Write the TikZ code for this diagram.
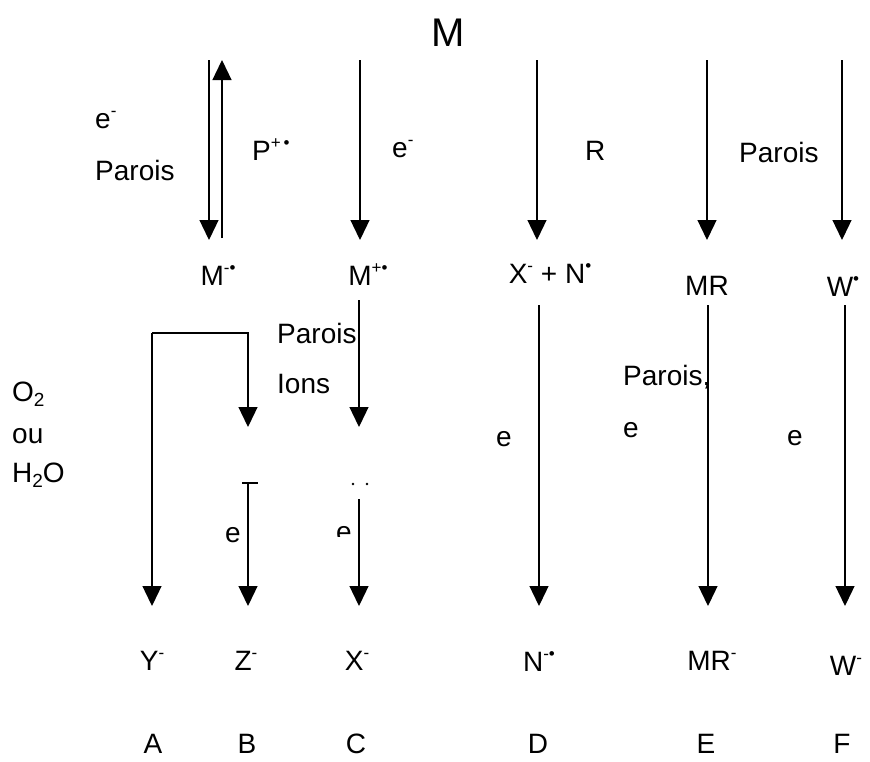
\documentclass[tikz,border=0pt]{standalone}
\usepackage{fontspec}
\setmainfont{Liberation Sans}
\usetikzlibrary{arrows.meta}

% small raised / lowered marks for charges, radicals and indices
\newcommand\sups[1]{\raisebox{0.40em}{\fontsize{17}{17}\selectfont #1}}
\newcommand\subs[1]{\raisebox{-0.18em}{\fontsize{19}{19}\selectfont #1}}

\begin{document}
\begin{tikzpicture}[x=1pt, y=-1pt,
  font=\fontsize{28}{32}\selectfont,
  lbl/.style={anchor=base, inner sep=0pt},
  lblw/.style={anchor=base west, inner sep=0pt},
  arr/.style={line width=1.3pt, -{Triangle[length=20pt,width=19pt]}},
  plain/.style={line width=1.3pt}]
\useasboundingbox (0,0) rectangle (870,761);

% ---- starting molecule
\node[lbl, font=\fontsize{40}{44}\selectfont] (M) at (448,46) {M};

% ---- first step: conditions
\node[lblw] (eA) at (95,128) {e\sups{-}};
\node[lblw] (parA) at (95,180) {Parois};
\node[lblw] (pplus) at (252,160) {P\sups{+\,•}};
\node[lblw] (eC) at (392,157) {e\sups{-}};
\node[lblw] (rD) at (585,160) {R};
\node[lblw] (parF) at (739,162) {Parois};

% ---- intermediates
\node[lbl] (Mminus) at (218,285) {M\sups{-•}};
\node[lbl] (Mplus)  at (368,285) {M\sups{+•}};
\node[lbl] (XN)     at (550,283) {X\sups{-} + N\sups{•}};
\node[lbl] (MR)     at (707,295) {MR};
\node[lbl] (Wrad)   at (843,296) {W\sups{•}};

% ---- second step: conditions
\node[lblw] (parC) at (277,343) {Parois};
\node[lblw] (ions) at (277,393) {Ions};
\node[lblw] (o2)   at (12,401) {O\subs{2}};
\node[lblw] (ou)   at (12,443) {ou};
\node[lblw] (h2o)  at (12,482) {H\subs{2}O};
\node[lbl]  (eB)   at (233,542) {e};
\node[lbl]  (eD)   at (504,446) {e};
\node[lblw] (parE) at (623,385) {Parois,};
\node[lblw] (eE)   at (623,437) {e};
\node[lbl]  (eF)   at (795,445) {e};
% truncated label beside column C
\begin{scope}
  \clip (330,518) rectangle (360,536);
  \node[lbl] (eCt) at (344,541) {e};
\end{scope}

% ---- products
\node[lbl] (Yp)  at (152,670) {Y\sups{-}};
\node[lbl] (Zp)  at (246,670) {Z\sups{-}};
\node[lbl] (Xp)  at (357,670) {X\sups{-}};
\node[lbl] (Np)  at (539,671) {N\sups{-•}};
\node[lbl] (MRp) at (712,670) {MR\sups{-}};
\node[lbl] (Wp)  at (846,675) {W\sups{-}};

% ---- pathway letters
\node[lbl] (cA) at (153,753) {A};
\node[lbl] (cB) at (247,753) {B};
\node[lbl] (cC) at (356,753) {C};
\node[lbl] (cD) at (538,753) {D};
\node[lbl] (cE) at (706,753) {E};
\node[lbl] (cF) at (842,753) {F};

% ---- arrow end points
\coordinate (tA1) at (209,60);  \coordinate (bA1) at (209,240);
\coordinate (tA2) at (222,60);  \coordinate (bA2) at (222,238);
\coordinate (tC)  at (360,60);  \coordinate (bC)  at (360,240);
\coordinate (tD)  at (537,60);  \coordinate (bD)  at (537,240);
\coordinate (tE)  at (707,60);  \coordinate (bE)  at (707,240);
\coordinate (tF)  at (842,60);  \coordinate (bF)  at (842,240);

\coordinate (kA) at (152,333);  \coordinate (kB) at (248,333);
\coordinate (mA) at (152,606);  \coordinate (mB) at (248,427);
\coordinate (sC) at (359,300);  \coordinate (mC) at (359,427);

\coordinate (uB) at (248,483);  \coordinate (dB) at (248,606);
\coordinate (uC) at (359,499);  \coordinate (dC) at (359,606);

\coordinate (sD) at (539,305);  \coordinate (dD) at (539,606);
\coordinate (sE) at (708,305);  \coordinate (dE) at (708,606);
\coordinate (sF) at (845,305);  \coordinate (dF) at (845,606);

% ---- first step arrows
\draw[arr] (tA1) -- (bA1);
\draw[arr] (bA2) -- (tA2);
\draw[arr] (tC) -- (bC);
\draw[arr] (tD) -- (bD);
\draw[arr] (tE) -- (bE);
\draw[arr] (tF) -- (bF);

% ---- second step arrows
\draw[arr] (kA) -- (mA);
\draw[arr] (kA) -- (kB) -- (mB);
\draw[arr] (sC) -- (mC);
\draw[arr] (sD) -- (dD);
\draw[arr] (sE) -- (dE);
\draw[arr] (sF) -- (dF);

% ---- third step arrows (B, C)
\draw[arr] (uB) -- (dB);
\draw[plain] (242,483) -- (258,483);
\draw[arr] (uC) -- (dC);
\fill (353,484) circle (1.4pt);
\fill (367,484) circle (1.4pt);
\end{tikzpicture}
\end{document}
